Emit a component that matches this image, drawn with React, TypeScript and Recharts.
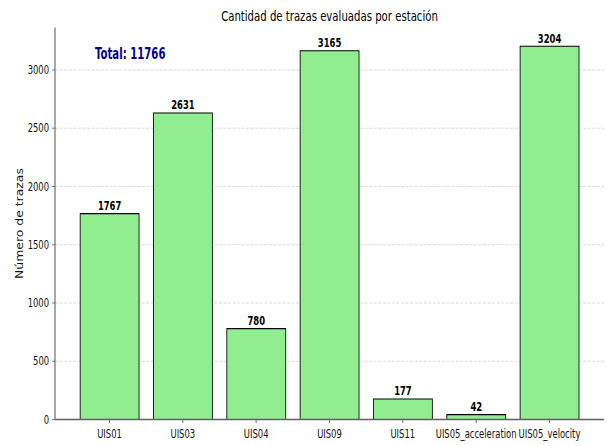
import React from 'react';
import { BarChart, Bar, XAxis, YAxis, CartesianGrid, LabelList, Customized } from 'recharts';

const stations = ['UIS01', 'UIS03', 'UIS04', 'UIS09', 'UIS11', 'UIS05_acceleration', 'UIS05_velocity'];
const counts = [1767, 2631, 780, 3165, 177, 42, 3204];
const yTicks = [0, 500, 1000, 1500, 2000, 2500, 3000];
const titleText = 'Cantidad de trazas evaluadas por estación';
const yLabelText = 'Número de trazas';
const totalText = `Total: ${counts.reduce((a, b) => a + b, 0)}`;

const data = stations.map((s, i) => ({ station: s, count: counts[i] }));

const FONT = '"DejaVu Sans", sans-serif';
const SPINE = '#606060';
const W = 1000;
const H = 600;
const SX = 0.607;
const SY = 0.74333;
const STRETCH = 1.12;

const XTick = (props: any) => {
  const { x, y, payload } = props;
  return (
    <g transform={`translate(${x}, ${y + 19.6}) scale(1, ${STRETCH})`}>
      <text x={0} y={0} textAnchor="middle" fontFamily={FONT} fontSize={13.9} fill="#111">
        {payload.value}
      </text>
    </g>
  );
};

const YTick = (props: any) => {
  const { x, y, payload } = props;
  return (
    <g transform={`translate(${x}, ${y}) scale(1, ${STRETCH})`}>
      <text x={0} y={5} textAnchor="end" fontFamily={FONT} fontSize={13.9} fill="#111">
        {payload.value}
      </text>
    </g>
  );
};

const BarValue = (props: any) => {
  const { x, y, width, value } = props;
  return (
    <g transform={`translate(${x + width / 2}, ${y - 4.8}) scale(1, ${STRETCH})`}>
      <text x={0} y={0} textAnchor="middle" fontFamily={FONT} fontWeight="bold" fontSize={13.9} fill="#000">
        {value}
      </text>
    </g>
  );
};

const Texts = () => (
  <g>
    <g transform={`translate(542.8, 28.7) scale(1, ${STRETCH})`}>
      <text x={0} y={0} textAnchor="middle" fontFamily={FONT} fontSize={16.7} fill="#000">
        {titleText}
      </text>
    </g>
    <text
      x={38.4}
      y={300.7}
      transform="rotate(-90 38.4 300.7)"
      textAnchor="middle"
      fontFamily={FONT}
      fontSize={16.7}
      fill="#111"
    >
      {yLabelText}
    </text>
    <g transform="translate(156.5, 79.4) scale(1, 1.28)">
      <text x={0} y={0} fontFamily={FONT} fontWeight="bold" fontSize={16.7} fill="#00008B">
        {totalText}
      </text>
    </g>
  </g>
);

export default function App() {
  return (
    <div style={{ position: 'absolute', left: 0, top: 0, width: 607, height: 446, overflow: 'hidden', background: '#fff' }}>
      <div style={{ width: W, height: H, transform: `scale(${SX}, ${SY})`, transformOrigin: '0 0' }}>
        <BarChart
          width={W}
          height={H}
          data={data}
          margin={{ top: 37, right: 5, bottom: 0, left: 0 }}
          barCategoryGap="10%"
        >
          <CartesianGrid
            xAxisId="main"
            yAxisId="main"
            vertical={false}
            horizontalValues={yTicks}
            stroke="#c8c8c8"
            strokeDasharray="5 2.5"
          />
          <XAxis
            xAxisId="main"
            dataKey="station"
            height={35.6}
            padding={{ left: 29.4, right: 29.4 }}
            interval={0}
            tick={<XTick />}
            tickSize={4.86}
            tickMargin={0}
            tickLine={{ stroke: SPINE, strokeWidth: 1.3 }}
            axisLine={{ stroke: SPINE, strokeWidth: 1.8 }}
          />
          <XAxis
            xAxisId="top"
            orientation="top"
            dataKey="station"
            height={0}
            padding={{ left: 29.4, right: 29.4 }}
            tick={false}
            tickLine={false}
            axisLine={{ stroke: SPINE, strokeWidth: 1.8 }}
          />
          <YAxis
            yAxisId="main"
            width={90.6}
            domain={[0, 3364.2]}
            ticks={yTicks}
            interval={0}
            tick={<YTick />}
            tickSize={4.86}
            tickMargin={4.86}
            tickLine={{ stroke: SPINE, strokeWidth: 1.3 }}
            axisLine={{ stroke: SPINE, strokeWidth: 1.8 }}
            allowDataOverflow
          />
          <YAxis
            yAxisId="right"
            orientation="right"
            width={0}
            domain={[0, 3364.2]}
            tick={false}
            tickLine={false}
            axisLine={{ stroke: SPINE, strokeWidth: 1.8 }}
          />
          <Bar
            xAxisId="main"
            yAxisId="main"
            dataKey="count"
            fill="#90EE90"
            stroke="#000"
            strokeWidth={1.4}
            isAnimationActive={false}
          >
            <LabelList dataKey="count" content={<BarValue />} />
          </Bar>
          <Customized component={<Texts />} />
        </BarChart>
      </div>
    </div>
  );
}
